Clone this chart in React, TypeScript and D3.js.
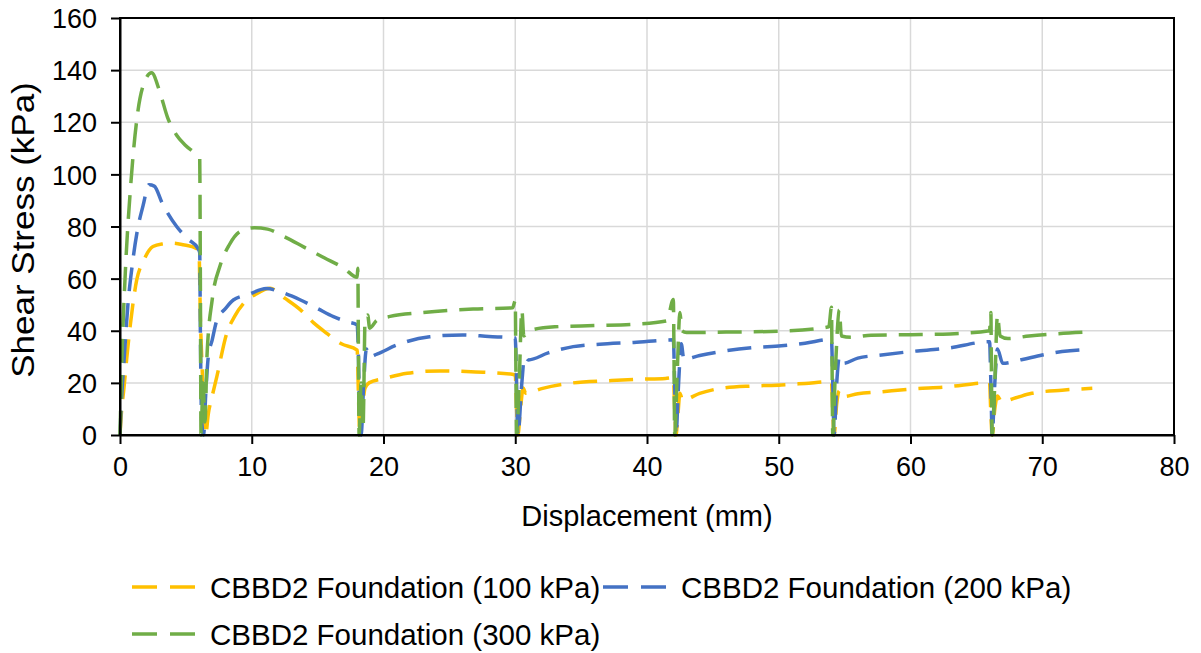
import React, { useRef, useEffect } from "react";
import * as d3 from "d3";

// displacement (mm), shear stress (kPa)
const foundation100: [number, number][] = [
  [0, 0], [0.1, 8], [0.3, 18], [0.5, 28.8], [0.8, 43], [1.27, 59.5], [1.8, 67], [2.5, 72.3],
  [3.2, 73.3], [4.0, 73.6], [4.8, 73], [5.8, 71.6], [6.0, 70], [6.1, 45], [6.2, 30], [6.35, 12],
  [6.5, 0], [6.7, 8], [7.0, 15], [7.35, 22.4], [8.1, 39], [8.7, 45.5], [9.4, 50.6], [10.3, 54],
  [11.4, 56.3], [12.5, 52.5], [13.7, 48], [14.7, 43], [15.7, 39], [16.8, 35], [18, 32.6],
  [18.1, 15], [18.2, 0], [18.4, 10], [18.6, 18], [18.9, 20], [20, 21.6], [21.8, 23.7],
  [24.3, 24.6], [27, 24.2], [29.6, 23.4], [30.0, 23], [30.1, 10], [30.2, 0], [30.4, 10],
  [30.6, 18], [30.8, 16], [32, 17.8], [34.4, 20], [37, 20.8], [39.3, 21.4], [41.4, 21.7],
  [42, 22], [42.1, 10], [42.2, 0], [42.35, 8], [42.5, 16], [42.7, 13.4], [44, 16],
  [45.6, 17.9], [48, 18.8], [50.2, 19.2], [52, 19.8], [54, 20.5], [54.1, 8], [54.2, 0],
  [54.4, 12], [54.6, 17], [54.8, 14.7], [56, 15.8], [57.8, 16.6], [60, 17.6], [62.8, 18.5],
  [66, 20.1], [66.1, 8], [66.2, 0], [66.4, 10], [66.6, 15], [66.9, 12.8], [68, 14.3],
  [69.2, 16], [71.5, 17.2], [73.8, 17.9],
];

const foundation200: [number, number][] = [
  [0, 0], [0.1, 12], [0.3, 28], [0.6, 50], [0.9, 64], [1.3, 78], [1.75, 88], [2.2, 96],
  [2.6, 95.5], [3.2, 89], [4.3, 80], [5.2, 75], [5.9, 71.7], [6.05, 70], [6.1, 40], [6.2, 5],
  [6.35, 0], [6.5, 15], [6.7, 30], [7.0, 36.5], [7.35, 44], [8.0, 48.5], [8.6, 51.8],
  [9.8, 54], [11.1, 56.2], [12.4, 54.5], [13.7, 51.8], [15, 48.5], [16.2, 45.4], [17.2, 43.5],
  [18, 42.2], [18.1, 30], [18.2, 5], [18.3, 0], [18.5, 20], [18.7, 33], [18.9, 30],
  [19.5, 31], [21, 34.5], [23.5, 37.7], [26, 38.4], [28, 37.8], [30, 37.2], [30.1, 20],
  [30.2, 0], [30.5, 20], [30.7, 30], [31, 28.8], [32.5, 31.5], [34.4, 33.9], [37, 35],
  [39, 35.5], [42, 36.5], [42.1, 20], [42.2, 0], [42.4, 20], [42.6, 35], [42.8, 29],
  [44, 30.5], [45.6, 32], [48, 33.5], [50.2, 34.2], [52, 35.2], [54, 36.7], [54.1, 20],
  [54.2, 0], [54.4, 20], [54.6, 30], [54.9, 27.5], [56, 29.5], [57.8, 30.7], [60, 32],
  [62.8, 33.3], [66, 35.8], [66.1, 20], [66.2, 0], [66.4, 20], [66.6, 33], [67, 27.5],
  [68.5, 29], [70, 30.7], [71.5, 32], [73.6, 32.9],
];

const foundation300: [number, number][] = [
  [0, 0], [0.15, 30], [0.4, 62], [0.8, 95], [1.3, 122], [1.9, 136], [2.4, 139], [3.0, 132],
  [3.6, 122], [4.3, 115], [5.0, 111], [5.9, 107], [6.05, 106], [6.1, 60], [6.15, 0],
  [6.3, 20], [6.45, 5], [6.6, 30], [7.0, 52], [7.6, 65], [8.3, 73], [9.1, 78], [10.2, 79.5],
  [11.2, 79], [12.5, 76], [14, 72], [15.5, 68], [17, 64], [18.0, 60.5], [18.05, 64],
  [18.1, 30], [18.15, 0], [18.3, 20], [18.45, 3], [18.6, 44], [18.8, 46], [18.95, 41],
  [19.5, 44], [20.5, 45.5], [23, 47], [26.8, 48.3], [29.8, 48.8], [30.0, 51.5], [30.05, 25],
  [30.1, 0], [30.3, 20], [30.5, 48], [30.65, 38], [31, 40], [33, 41.5], [36, 42], [39, 42.5],
  [41.5, 43.8], [42.0, 52], [42.05, 30], [42.1, 0], [42.3, 25], [42.5, 47], [42.65, 40],
  [43, 39.3], [46, 39.5], [50, 39.8], [53.8, 41.5], [54.0, 49], [54.05, 25], [54.1, 0],
  [54.3, 25], [54.6, 48], [54.75, 38], [55.5, 37.5], [57, 38.3], [60, 38.5], [63, 38.8],
  [66.0, 40], [66.1, 47], [66.15, 20], [66.2, 0], [66.4, 20], [66.6, 46], [66.8, 38],
  [67.4, 37], [69, 38], [71, 38.8], [73.5, 39.5],
];

const seriesNames = [
  "CBBD2 Foundation (100 kPa)",
  "CBBD2 Foundation (200 kPa)",
  "CBBD2 Foundation (300 kPa)",
];
const seriesColors = ["#FFC000", "#4472C4", "#70AD47"];
const xTicks = [0, 10, 20, 30, 40, 50, 60, 70, 80];
const yTicks = [0, 20, 40, 60, 80, 100, 120, 140, 160];

const ShearChart = () => {
  const svgRef = useRef<SVGSVGElement>(null);

  useEffect(() => {
    const svg = d3.select(svgRef.current);
    svg.selectAll("*").remove();

    const left = 120,
      right = 1174,
      top = 18,
      bottom = 435,
      font = "'Liberation Sans', Arial, sans-serif",
      dash = "24 12";

    const x = d3.scaleLinear().domain([0, 80]).range([left, right]);
    const y = d3.scaleLinear().domain([0, 160]).range([bottom, top]);

    // grid
    svg
      .append("g")
      .selectAll("line.vg")
      .data(xTicks)
      .enter()
      .append("line")
      .attr("x1", (d) => x(d))
      .attr("x2", (d) => x(d))
      .attr("y1", top)
      .attr("y2", bottom)
      .attr("stroke", "#D9D9D9")
      .attr("stroke-width", 1.5);
    svg
      .append("g")
      .selectAll("line.hg")
      .data(yTicks)
      .enter()
      .append("line")
      .attr("x1", left)
      .attr("x2", right)
      .attr("y1", (d) => y(d))
      .attr("y2", (d) => y(d))
      .attr("stroke", "#D9D9D9")
      .attr("stroke-width", 1.5);

    // series
    const line = d3
      .line<[number, number]>()
      .curve(d3.curveMonotoneX)
      .x((d) => x(d[0]))
      .y((d) => y(d[1]));
    const allSeries = [foundation100, foundation200, foundation300];
    allSeries.forEach((s, i) => {
      svg
        .append("path")
        .datum(s)
        .attr("d", line)
        .attr("fill", "none")
        .attr("stroke", seriesColors[i])
        .attr("stroke-width", 3.5)
        .attr("stroke-dasharray", dash)
        .attr("stroke-linejoin", "round");
    });

    // plot border
    svg
      .append("rect")
      .attr("x", left)
      .attr("y", top)
      .attr("width", right - left)
      .attr("height", bottom - top)
      .attr("fill", "none")
      .attr("stroke", "#000")
      .attr("stroke-width", 2);

    // axes
    const xAxis = d3.axisBottom(x).tickValues(xTicks).tickSize(9).tickSizeOuter(0);
    const yAxis = d3.axisLeft(y).tickValues(yTicks).tickSize(9).tickSizeOuter(0);
    const gx = svg.append("g").attr("transform", `translate(0,${bottom})`).call(xAxis);
    const gy = svg.append("g").attr("transform", `translate(${left},0)`).call(yAxis);
    [gx, gy].forEach((g) => {
      g.select(".domain").attr("stroke", "#000").attr("stroke-width", 2);
      g.selectAll(".tick line").attr("stroke", "#000").attr("stroke-width", 2);
      g.selectAll(".tick text")
        .attr("fill", "#000")
        .style("font-family", font)
        .style("font-size", "27px");
    });
    gx.selectAll(".tick text").attr("dy", "1.05em").attr("y", 13);
    gy.selectAll(".tick text").attr("x", -23).attr("dy", "0.36em");

    // axis titles
    svg
      .append("text")
      .attr("x", 647)
      .attr("y", 526)
      .attr("text-anchor", "middle")
      .style("font-family", font)
      .style("font-size", "29px")
      .text("Displacement (mm)");
    svg
      .append("text")
      .attr("transform", "translate(34,230) scale(0.88,1) rotate(-90)")
      .attr("text-anchor", "middle")
      .style("font-family", font)
      .style("font-size", "35px")
      .text("Shear Stress (kPa)");

    // legend
    const legendPos = [
      [132, 587],
      [603, 587],
      [132, 634],
    ];
    seriesNames.forEach((name, i) => {
      const [lx, ly] = legendPos[i];
      svg
        .append("line")
        .attr("x1", lx)
        .attr("x2", lx + 68)
        .attr("y1", ly)
        .attr("y2", ly)
        .attr("stroke", seriesColors[i])
        .attr("stroke-width", 3.5)
        .attr("stroke-dasharray", "25 13");
      svg
        .append("text")
        .attr("x", lx + 78)
        .attr("y", ly)
        .attr("dy", "0.36em")
        .style("font-family", font)
        .style("font-size", "29.5px")
        .text(name);
    });
  }, []);

  return (
    <div style={{ position: "absolute", left: 0, top: 0 }}>
      <svg ref={svgRef} width={1201} height={653} style={{ display: "block", background: "#fff" }}></svg>
    </div>
  );
};

export default ShearChart;
